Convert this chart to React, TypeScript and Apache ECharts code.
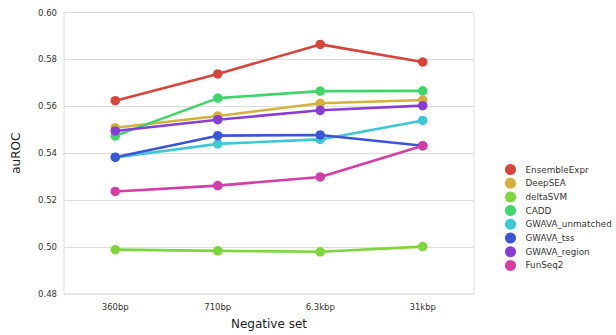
import React, { useEffect, useRef } from "react";
import * as echarts from "echarts";

const categories = ["360bp", "710bp", "6.3kbp", "31kbp"];
const seriesNames = ["EnsembleExpr", "DeepSEA", "deltaSVM", "CADD", "GWAVA_unmatched", "GWAVA_tss", "GWAVA_region", "FunSeq2"];
const colors = ["#d6443a", "#d4b03c", "#7dd63c", "#3dd66a", "#3dc8d6", "#3c55d6", "#8a3cd6", "#d63ca8"];
const ensembleExpr = [0.5624, 0.5738, 0.5864, 0.5789];
const deepSEA = [0.5509, 0.5559, 0.5613, 0.5627];
const deltaSVM = [0.4989, 0.4984, 0.4980, 0.5002];
const cadd = [0.5474, 0.5635, 0.5665, 0.5666];
const gwavaUnmatched = [0.5382, 0.5440, 0.5459, 0.5540];
const gwavaTss = [0.5383, 0.5475, 0.5478, 0.5432];
const gwavaRegion = [0.5495, 0.5543, 0.5583, 0.5603];
const funSeq2 = [0.5237, 0.5262, 0.5299, 0.5432];
const yTicks = { min: 0.48, max: 0.6, interval: 0.02 };

const allData = [ensembleExpr, deepSEA, deltaSVM, cadd, gwavaUnmatched, gwavaTss, gwavaRegion, funSeq2];

export default function App() {
  const ref = useRef<HTMLDivElement>(null);
  useEffect(() => {
    if (!ref.current) return;
    const chart = echarts.init(ref.current, undefined, { renderer: "svg" });
    const font = "DejaVu Sans";
    chart.setOption({
      animation: false,
      textStyle: { fontFamily: font },
      grid: { left: 64, right: 142, top: 12.5, bottom: 41, show: true, borderColor: "#dcdcdc", borderWidth: 1 },
      legend: {
        orient: "vertical",
        left: 500,
        top: 159,
        icon: "circle",
        itemWidth: 12,
        itemHeight: 11,
        itemGap: 2.7,
        textStyle: { fontSize: 8.8, color: "#333", fontFamily: font, padding: [0, 0, 0, 4] },
        data: seriesNames,
      },
      xAxis: {
        type: "category",
        data: categories,
        boundaryGap: true,
        name: "Negative set",
        nameLocation: "middle",
        nameGap: 24,
        nameTextStyle: { fontSize: 12, color: "#222", fontFamily: font },
        axisLine: { show: false },
        axisTick: { show: false },
        axisLabel: { fontSize: 8.5, color: "#333", margin: 8, fontFamily: font },
        splitLine: { show: false },
      },
      yAxis: {
        type: "value",
        min: yTicks.min,
        max: yTicks.max,
        interval: yTicks.interval,
        name: "auROC",
        nameLocation: "middle",
        nameGap: 42,
        nameTextStyle: { fontSize: 12, color: "#222", fontFamily: font },
        axisLine: { show: false },
        axisTick: { show: false },
        axisLabel: { fontSize: 8.5, color: "#333", margin: 7, formatter: (v: number) => v.toFixed(2), fontFamily: font },
        splitLine: { show: true, lineStyle: { color: "#dcdcdc", width: 1 } },
      },
      series: seriesNames.map((name, i) => ({
        name,
        type: "line",
        data: allData[i],
        symbol: "circle",
        symbolSize: 9.5,
        lineStyle: { width: 2.6, color: colors[i] },
        itemStyle: { color: colors[i] },
        z: 2 + i,
      })),
    });
    return () => chart.dispose();
  }, []);
  return <div ref={ref} style={{ width: 616, height: 335, position: "absolute", left: 0, top: 0, background: "#fff" }} />;
}
